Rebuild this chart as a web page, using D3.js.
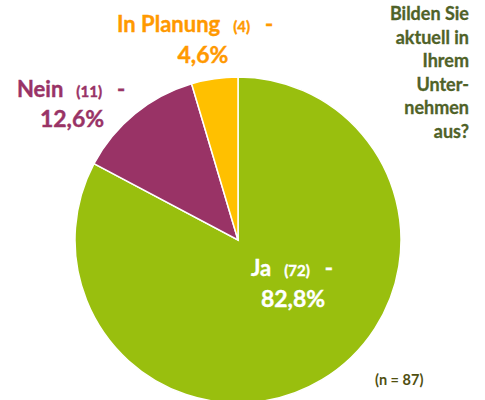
<!DOCTYPE html>
<html lang="de">
<head>
<meta charset="UTF-8"/>
<title>Bilden Sie aktuell in Ihrem Unternehmen aus?</title>
<script src="https://d3js.org/d3.v7.min.js"></script>
<style>
  body { margin: 0; background: #fff; }
  svg { display: block; font-family: Lato, "Open Sans", sans-serif; font-weight: bold; }
</style>
</head>
<body>
<svg id="chart" width="485" height="400"></svg>
<script>
// data
const categories = ['Ja', 'Nein', 'In Planung'];
const counts = [72, 11, 4];
const percents = ['82,8%', '12,6%', '4,6%'];
const titleLines = ['Bilden Sie', 'aktuell in', 'Ihrem', 'Unter-', 'nehmen', 'aus?'];
const nLabel = '(n = 87)';

const sliceColors = ['#99bf0e', '#993366', '#ffc000'];
const labelColors = ['#ffffff', '#993366', '#ff9900'];

const svg = d3.select('#chart');
const cx = 238, cy = 240, r = 163;

const pie = d3.pie().sort(null).value(d => d)(counts);
const arc = d3.arc().innerRadius(0).outerRadius(r);

svg.append('g').attr('transform', `translate(${cx},${cy})`)
  .selectAll('path').data(pie).enter().append('path')
  .attr('d', arc)
  .attr('fill', (d, i) => sliceColors[i])
  .attr('stroke', '#fff').attr('stroke-width', 1.5);

// label anchor: name start, first baseline, percent centre, second baseline
const labelPos = [
  { x: 251, y: 276, px: 293, py: 307 },
  { x: 17, y: 97, px: 72, py: 127 },
  { x: 117, y: 32, px: 203, py: 63 }
];

categories.forEach((c, i) => {
  const p = labelPos[i];
  const t = svg.append('text').attr('x', p.x).attr('y', p.y)
    .attr('fill', labelColors[i]).attr('font-size', 22)
    .attr('stroke', labelColors[i]).attr('stroke-width', 0.4);
  t.append('tspan').text(c);
  t.append('tspan').attr('font-size', 15).attr('dx', 13).text(`(${counts[i]})`);
  t.append('tspan').attr('dx', 15).text('-');
  svg.append('text').attr('x', p.px).attr('y', p.py)
    .attr('text-anchor', 'middle').attr('fill', labelColors[i])
    .attr('stroke', labelColors[i]).attr('stroke-width', 0.4)
    .attr('font-size', 23).text(percents[i]);
});

// title
svg.append('g').selectAll('text').data(titleLines).enter().append('text')
  .attr('x', 469).attr('y', (d, i) => 20 + i * 23.5)
  .attr('text-anchor', 'end').attr('fill', '#4f6228')
  .attr('stroke', '#4f6228').attr('stroke-width', 0.3)
  .attr('font-size', 18)
  .text(d => d);

svg.append('text').attr('x', 375).attr('y', 385)
  .attr('fill', '#4f4f10').attr('font-size', 14.5).text(nLabel);
</script>
</body>
</html>
